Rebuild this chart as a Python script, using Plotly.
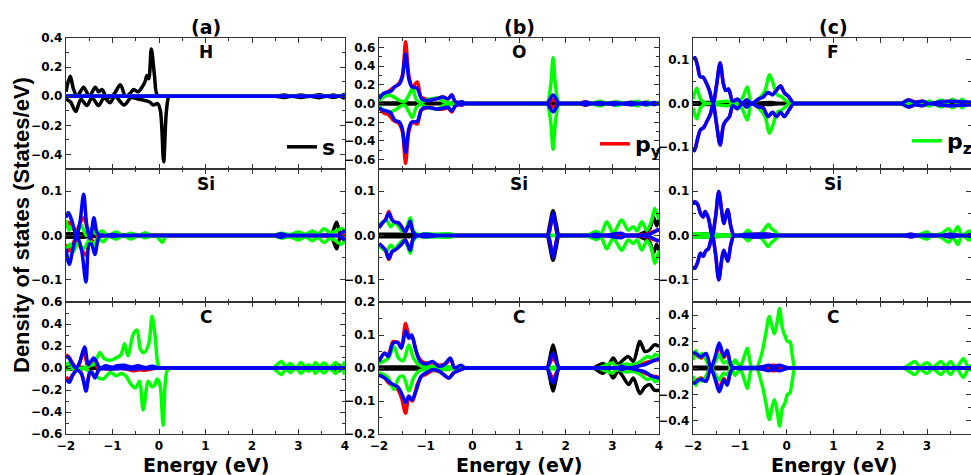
import plotly.graph_objects as go

# ---------------- data: (energy eV, DOS states/eV) ----------------
ZERO = [(-2.0, 0.0), (4.0, 0.0)]

# ---- (a) H ----
H_s_up = [(-2.0, 0.03), (-1.96, 0.09), (-1.907, 0.137), (-1.84, 0.05), (-1.76, 0.0), (-1.62, 0.062), (-1.5, 0.0),
          (-1.37, 0.062), (-1.3, 0.03), (-1.226, 0.046), (-1.12, -0.01), (-0.98, 0.01), (-0.83, 0.078), (-0.72, 0.0),
          (-0.62, 0.02), (-0.545, 0.046), (-0.45, 0.03), (-0.366, 0.062), (-0.3, 0.1), (-0.26, 0.142), (-0.22, 0.12),
          (-0.165, 0.325), (-0.1, 0.15), (-0.04, 0.01), (0.05, 0.0), (0.15, 0.0), (2.4, 0.0), (2.5, 0.0), (2.7, 0.008),
          (2.85, 0.0), (3.05, 0.008), (3.25, 0.0), (3.45, 0.01), (3.6, 0.0), (3.75, 0.008), (3.88, 0.0), (4.0, 0.015)]
H_s_dn = [(-2.0, -0.02), (-1.9, -0.04), (-1.79, -0.105), (-1.68, -0.02), (-1.55, -0.064), (-1.44, -0.01), (-1.3, -0.064),
          (-1.18, -0.01), (-1.05, -0.045), (-0.95, 0.0), (-0.75, -0.06), (-0.6, -0.01), (-0.45, -0.02), (-0.3, -0.03),
          (-0.2, -0.04), (-0.12, -0.06), (-0.03, -0.05), (0.03, -0.1), (0.1, -0.45), (0.16, -0.1), (0.22, 0.0),
          (0.32, 0.0), (2.4, 0.0), (2.5, 0.0), (2.7, -0.008), (2.85, 0.0), (3.05, -0.008), (3.25, 0.0), (3.45, -0.01),
          (3.6, 0.0), (3.75, -0.008), (3.88, 0.0), (4.0, -0.015)]

# ---- (a) Si ----
Sia_s_up = [(-2.0, 0.004), (-1.7, 0.004), (-1.4, 0.002), (-1.2, 0.0), (-1.1, 0.0), (3.5, 0.0), (3.6, 0.0), (3.72, 0.006),
            (3.82, 0.03), (3.9, 0.004), (4.0, 0.012)]
Sia_s_dn = [(-2.0, -0.004), (-1.7, -0.004), (-1.4, -0.002), (-1.2, 0.0), (-1.1, 0.0), (3.5, 0.0), (3.6, 0.0), (3.72, -0.006),
            (3.82, -0.03), (3.9, -0.004), (4.0, -0.014)]
Sia_py_up = [(-2.0, 0.02), (-1.93, 0.03), (-1.8, 0.01), (-1.62, 0.04), (-1.5, 0.005), (-1.4, 0.02), (-1.3, 0.0), (-1.2, 0.0),
             (4.0, 0.0)]
Sia_py_dn = [(-2.0, -0.02), (-1.93, -0.035), (-1.8, -0.01), (-1.57, -0.045), (-1.48, -0.005), (-1.38, -0.02), (-1.3, 0.0),
             (-1.2, 0.0), (4.0, 0.0)]
Sia_pz_up = [(-2.0, 0.035), (-1.93, 0.012), (-1.85, 0.022), (-1.78, 0.002), (-1.68, 0.025), (-1.56, 0.0), (-1.46, 0.016),
             (-1.36, 0.004), (-1.22, 0.01), (-1.1, 0.0), (-0.92, 0.008), (-0.78, 0.0), (-0.6, 0.005), (-0.45, 0.0),
             (-0.3, 0.006), (-0.15, 0.0), (-0.05, 0.0), (2.35, 0.0), (2.45, 0.0), (2.65, 0.005), (2.8, 0.002), (3.0, 0.008),
             (3.15, 0.003), (3.3, 0.01), (3.42, 0.004), (3.55, 0.015), (3.68, 0.006), (3.8, 0.01), (3.92, 0.016), (4.0, 0.01)]
Sia_pz_dn = [(-2.0, -0.03), (-1.9, -0.02), (-1.84, -0.036), (-1.75, -0.018), (-1.62, -0.03), (-1.5, -0.01), (-1.42, -0.022),
             (-1.32, -0.006), (-1.2, -0.014), (-1.08, -0.002), (-0.92, -0.008), (-0.78, 0.0), (-0.6, -0.008), (-0.45, 0.0),
             (-0.3, -0.005), (-0.12, 0.0), (-0.03, -0.004), (0.07, -0.015), (0.16, 0.0), (0.26, 0.0), (2.35, 0.0),
             (2.45, 0.0), (2.65, -0.006), (2.8, -0.002), (3.0, -0.01), (3.15, -0.003), (3.3, -0.012), (3.42, -0.004),
             (3.55, -0.016), (3.68, -0.006), (3.8, -0.012), (3.92, -0.02), (4.0, -0.01)]
Sia_px_up = [(-2.0, 0.04), (-1.95, 0.052), (-1.88, 0.035), (-1.77, 0.0), (-1.7, 0.03), (-1.62, 0.093), (-1.55, 0.02),
             (-1.48, -0.008), (-1.4, 0.04), (-1.33, 0.006), (-1.25, 0.0), (-1.0, 0.002), (-0.8, 0.0), (-0.7, 0.0),
             (2.4, 0.0), (2.5, 0.0), (2.62, 0.004), (2.75, 0.0), (2.85, 0.0), (3.75, 0.0), (3.85, 0.0), (4.0, 0.012)]
Sia_px_dn = [(-2.0, -0.03), (-1.93, -0.065), (-1.85, -0.03), (-1.77, 0.0), (-1.67, -0.03), (-1.57, -0.105), (-1.5, -0.02),
             (-1.45, -0.02), (-1.38, -0.043), (-1.3, -0.005), (-1.25, 0.0), (-1.0, -0.002), (-0.8, 0.0), (-0.7, 0.0),
             (2.4, 0.0), (2.5, 0.0), (2.62, -0.004), (2.75, 0.0), (2.85, 0.0), (3.75, 0.0), (3.85, 0.0), (4.0, -0.01)]

# ---- (a) C ----
Ca_s_up = [(-2.0, 0.01), (-1.8, 0.006), (-1.5, 0.004), (-1.2, 0.0), (-1.1, 0.0), (3.6, 0.0), (3.7, 0.0), (3.8, 0.02),
           (3.85, 0.03), (3.92, 0.005), (4.0, 0.0)]
Ca_s_dn = [(-2.0, -0.01), (-1.8, -0.006), (-1.5, -0.004), (-1.2, 0.0), (-1.1, 0.0), (3.6, 0.0), (3.7, 0.0), (3.8, -0.02),
           (3.85, -0.03), (3.92, -0.005), (4.0, 0.0)]
Ca_py_up = [(-2.0, 0.12), (-1.94, 0.1), (-1.82, 0.02), (-1.75, 0.0), (-1.62, 0.15), (-1.52, 0.0), (-1.42, 0.07), (-1.3, 0.0),
            (-1.1, 0.01), (-0.9, 0.0), (-0.8, 0.0), (4.0, 0.0)]
Ca_py_dn = [(-2.0, -0.08), (-1.94, -0.1), (-1.8, -0.03), (-1.72, 0.0), (-1.57, -0.17), (-1.47, -0.03), (-1.38, -0.08),
            (-1.27, -0.005), (-1.1, -0.01), (-0.9, 0.0), (-0.7, -0.01), (-0.55, -0.025), (-0.42, -0.015), (-0.3, -0.02),
            (-0.18, -0.01), (-0.05, 0.0), (0.05, 0.0), (4.0, 0.0)]
Ca_pz_up = [(-2.0, 0.02), (-1.92, 0.05), (-1.82, 0.0), (-1.72, -0.015), (-1.6, 0.0), (-1.5, 0.02), (-1.4, 0.035), (-1.27, 0.14),
            (-1.19, 0.09), (-1.05, 0.07), (-0.93, 0.09), (-0.82, 0.12), (-0.74, 0.22), (-0.67, 0.11), (-0.55, 0.31),
            (-0.47, 0.345), (-0.4, 0.17), (-0.32, 0.14), (-0.22, 0.22), (-0.15, 0.47), (-0.08, 0.28), (-0.01, 0.02),
            (0.06, 0.0), (0.16, 0.0), (2.35, 0.0), (2.45, 0.0), (2.55, 0.035), (2.64, 0.06), (2.72, 0.01), (2.82, 0.04),
            (2.95, 0.0), (3.05, 0.05), (3.15, 0.01), (3.22, 0.03), (3.3, 0.0), (3.36, 0.05), (3.45, 0.015), (3.55, 0.045),
            (3.65, 0.005), (3.72, 0.02), (3.8, 0.05), (3.9, 0.0), (4.0, 0.06)]
Ca_pz_dn = [(-2.0, -0.02), (-1.9, 0.0), (-1.8, -0.01), (-1.62, 0.0), (-1.45, -0.05), (-1.3, -0.09), (-1.2, -0.1), (-1.05, -0.04),
            (-0.92, -0.07), (-0.8, -0.05), (-0.7, -0.08), (-0.6, -0.15), (-0.5, -0.18), (-0.42, -0.12), (-0.34, -0.38),
            (-0.23, -0.12), (-0.15, -0.17), (-0.1, -0.16), (-0.04, -0.1), (0.02, -0.15), (0.09, -0.52), (0.17, -0.03),
            (0.25, 0.0), (0.35, 0.0), (2.35, 0.0), (2.45, 0.0), (2.55, -0.035), (2.64, -0.06), (2.72, -0.01),
            (2.82, -0.04), (2.95, 0.0), (3.05, -0.05), (3.15, -0.01), (3.22, -0.03), (3.3, 0.0), (3.36, -0.05),
            (3.45, -0.015), (3.55, -0.045), (3.65, -0.005), (3.72, -0.02), (3.8, -0.05), (3.9, 0.0), (4.0, -0.06)]
Ca_px_up = [(-2.0, 0.09), (-1.95, 0.1), (-1.87, 0.04), (-1.78, 0.0), (-1.7, 0.06), (-1.6, 0.19), (-1.52, 0.03), (-1.45, 0.07),
            (-1.4, 0.09), (-1.34, 0.05), (-1.27, 0.0), (-1.15, 0.02), (-1.0, 0.005), (-0.9, 0.02), (-0.75, 0.025),
            (-0.6, 0.01), (-0.45, 0.02), (-0.3, 0.005), (-0.15, 0.015), (0.0, 0.0), (0.1, 0.0), (4.0, 0.0)]
Ca_px_dn = [(-2.0, -0.1), (-1.93, -0.13), (-1.85, -0.06), (-1.76, -0.02), (-1.66, -0.06), (-1.57, -0.21), (-1.49, -0.04),
            (-1.44, -0.04), (-1.38, -0.09), (-1.3, -0.02), (-1.2, -0.005), (-1.0, -0.01), (-0.8, -0.005), (-0.6, -0.01),
            (-0.4, -0.005), (-0.2, -0.005), (0.0, 0.0), (0.1, 0.0), (4.0, 0.0)]

# ---- (b) O ----
O_s_up = [(-2.0, 0.006), (-1.5, 0.006), (-1.0, 0.004), (-0.6, 0.002), (-0.4, 0.0), (-0.3, 0.0), (1.55, 0.0), (1.65, 0.0),
          (1.73, 0.01), (1.8, 0.0), (1.9, 0.0), (4.0, 0.0)]
O_s_dn = [(-2.0, -0.006), (-1.5, -0.006), (-1.0, -0.004), (-0.6, -0.002), (-0.4, 0.0), (-0.3, 0.0), (1.55, 0.0), (1.65, 0.0),
          (1.73, -0.01), (1.8, 0.0), (1.9, 0.0), (4.0, 0.0)]
O_py_up = [(-2.0, 0.04), (-1.9, 0.1), (-1.8, 0.13), (-1.69, 0.17), (-1.58, 0.21), (-1.5, 0.3), (-1.43, 0.66), (-1.36, 0.3),
           (-1.28, 0.18), (-1.18, 0.23), (-1.1, 0.07), (-1.0, 0.05), (-0.9, 0.04), (-0.77, 0.05), (-0.63, 0.07),
           (-0.52, 0.05), (-0.44, 0.09), (-0.37, 0.02), (-0.3, 0.01), (-0.23, 0.02), (-0.15, 0.0), (-0.05, 0.0),
           (1.5, 0.0), (1.6, 0.0), (1.73, 0.04), (1.86, 0.0), (1.96, 0.0), (2.2, 0.0), (2.3, 0.0), (2.42, 0.018),
           (2.55, 0.0), (2.75, 0.012), (2.86, 0.0), (3.05, 0.012), (3.18, 0.0), (3.4, 0.014), (3.57, 0.0), (3.7, 0.012),
           (3.82, 0.0), (3.9, 0.01), (4.0, 0.005)]
O_py_dn = [(-2.0, -0.04), (-1.9, -0.1), (-1.8, -0.12), (-1.69, -0.18), (-1.58, -0.21), (-1.5, -0.3), (-1.43, -0.64),
           (-1.36, -0.3), (-1.28, -0.2), (-1.18, -0.22), (-1.1, -0.07), (-1.0, -0.05), (-0.9, -0.04), (-0.77, -0.06),
           (-0.63, -0.06), (-0.52, -0.05), (-0.44, -0.09), (-0.37, -0.03), (-0.3, -0.01), (-0.23, -0.02), (-0.15, 0.0),
           (-0.05, 0.0), (1.5, 0.0), (1.6, 0.0), (1.73, -0.04), (1.86, 0.0), (1.96, 0.0), (2.2, 0.0), (2.3, 0.0),
           (2.42, -0.018), (2.55, 0.0), (2.75, -0.012), (2.86, 0.0), (3.05, -0.012), (3.18, 0.0), (3.4, -0.014),
           (3.57, 0.0), (3.7, -0.012), (3.82, 0.0), (3.9, -0.01), (4.0, -0.005)]
O_pz_up = [(-2.0, 0.03), (-1.9, 0.07), (-1.78, 0.09), (-1.65, 0.06), (-1.55, 0.03), (-1.45, 0.02), (-1.36, 0.09), (-1.28, 0.16),
           (-1.2, 0.04), (-1.1, 0.01), (-0.98, 0.04), (-0.86, 0.05), (-0.74, 0.06), (-0.62, 0.02), (-0.5, 0.01),
           (-0.35, 0.0), (-0.25, 0.0), (1.5, 0.0), (1.6, 0.0), (1.68, 0.2), (1.73, 0.49), (1.78, 0.2), (1.86, 0.0),
           (1.96, 0.0), (2.4, 0.0), (2.5, 0.0), (2.62, 0.01), (2.75, 0.025), (2.88, 0.0), (3.0, 0.01), (3.1, 0.02),
           (3.25, 0.0), (3.45, 0.015), (3.55, 0.025), (3.65, 0.0), (3.75, 0.02), (3.85, 0.0), (4.0, 0.01)]
O_pz_dn = [(-2.0, -0.03), (-1.9, -0.07), (-1.78, -0.09), (-1.65, -0.07), (-1.55, -0.03), (-1.45, -0.02), (-1.36, -0.09),
           (-1.28, -0.15), (-1.2, -0.04), (-1.1, -0.01), (-0.98, -0.04), (-0.86, -0.05), (-0.74, -0.06), (-0.62, -0.02),
           (-0.5, -0.01), (-0.35, 0.0), (-0.25, 0.0), (1.5, 0.0), (1.6, 0.0), (1.68, -0.2), (1.73, -0.49), (1.78, -0.2),
           (1.86, 0.0), (1.96, 0.0), (2.4, 0.0), (2.5, 0.0), (2.62, -0.01), (2.75, -0.025), (2.88, 0.0), (3.0, -0.01),
           (3.1, -0.02), (3.25, 0.0), (3.45, -0.015), (3.55, -0.025), (3.65, 0.0), (3.75, -0.02), (3.85, 0.0), (4.0, -0.01)]
O_px_up = [(-2.0, 0.05), (-1.92, 0.1), (-1.84, 0.12), (-1.75, 0.13), (-1.66, 0.18), (-1.56, 0.21), (-1.5, 0.28), (-1.43, 0.53),
           (-1.36, 0.26), (-1.3, 0.18), (-1.18, 0.16), (-1.1, 0.06), (-1.04, 0.035), (-0.91, 0.035), (-0.77, 0.05),
           (-0.63, 0.07), (-0.52, 0.05), (-0.44, 0.09), (-0.37, 0.02), (-0.3, 0.01), (-0.23, 0.02), (-0.15, 0.0),
           (-0.05, 0.0), (1.5, 0.0), (1.6, 0.0), (1.73, 0.09), (1.86, 0.0), (1.96, 0.0), (2.2, 0.0), (2.3, 0.0),
           (2.42, 0.015), (2.55, 0.0), (2.75, 0.01), (2.86, 0.0), (3.05, 0.01), (3.18, 0.0), (3.4, 0.012), (3.57, 0.0),
           (3.7, 0.01), (3.82, 0.0), (3.9, 0.01), (3.96, 0.0), (4.0, 0.005)]
O_px_dn = [(-2.0, -0.045), (-1.92, -0.07), (-1.84, -0.08), (-1.75, -0.1), (-1.66, -0.18), (-1.56, -0.2), (-1.5, -0.27),
           (-1.43, -0.52), (-1.36, -0.27), (-1.3, -0.2), (-1.18, -0.19), (-1.1, -0.08), (-1.04, -0.045), (-0.91, -0.045),
           (-0.77, -0.06), (-0.63, -0.05), (-0.52, -0.04), (-0.44, -0.08), (-0.37, -0.03), (-0.3, -0.01), (-0.23, -0.015),
           (-0.15, 0.0), (-0.05, 0.0), (1.5, 0.0), (1.6, 0.0), (1.73, -0.09), (1.86, 0.0), (1.96, 0.0), (2.2, 0.0),
           (2.3, 0.0), (2.42, -0.015), (2.55, 0.0), (2.75, -0.01), (2.86, 0.0), (3.05, -0.01), (3.18, 0.0), (3.4, -0.012),
           (3.57, 0.0), (3.7, -0.01), (3.82, 0.0), (3.9, -0.01), (3.96, 0.0), (4.0, -0.005)]

# ---- (b) Si ----
Sib_s_up = [(-2.0, 0.003), (-1.6, 0.003), (-1.3, 0.002), (-1.1, 0.0), (-1.0, 0.0), (1.5, 0.0), (1.6, 0.0), (1.66, 0.025),
            (1.73, 0.056), (1.8, 0.025), (1.86, 0.0), (1.96, 0.0), (3.4, 0.0), (3.5, 0.0), (3.7, 0.008), (3.8, 0.015),
            (3.88, 0.042), (3.95, 0.022), (4.0, 0.04)]
Sib_s_dn = [(-2.0, -0.003), (-1.6, -0.003), (-1.3, -0.002), (-1.1, 0.0), (-1.0, 0.0), (1.5, 0.0), (1.6, 0.0), (1.66, -0.025),
            (1.73, -0.056), (1.8, -0.025), (1.86, 0.0), (1.96, 0.0), (3.4, 0.0), (3.5, 0.0), (3.7, -0.008), (3.8, -0.015),
            (3.88, -0.04), (3.95, -0.02), (4.0, -0.035)]
Sib_py_up = [(-2.0, 0.018), (-1.93, 0.028), (-1.86, 0.036), (-1.79, 0.054), (-1.72, 0.036), (-1.66, 0.03), (-1.58, 0.028),
             (-1.52, 0.02), (-1.44, 0.008), (-1.38, 0.02), (-1.33, 0.03), (-1.27, 0.008), (-1.18, 0.0), (-1.08, 0.0),
             (1.52, 0.0), (1.62, 0.0), (1.73, 0.045), (1.84, 0.0), (1.94, 0.0), (3.5, 0.0), (3.6, 0.0), (3.8, 0.005),
             (3.9, 0.01), (4.0, 0.012)]
Sib_py_dn = [(-2.0, -0.019), (-1.93, -0.026), (-1.86, -0.034), (-1.79, -0.054), (-1.72, -0.037), (-1.66, -0.033),
             (-1.58, -0.026), (-1.52, -0.02), (-1.44, -0.01), (-1.38, -0.022), (-1.33, -0.032), (-1.27, -0.008),
             (-1.18, 0.0), (-1.08, 0.0), (1.52, 0.0), (1.62, 0.0), (1.73, -0.045), (1.84, 0.0), (1.94, 0.0), (3.5, 0.0),
             (3.6, 0.0), (3.8, -0.005), (3.9, -0.01), (4.0, -0.012)]
Sib_pz_up = [(-2.0, 0.024), (-1.92, 0.03), (-1.84, 0.035), (-1.75, 0.02), (-1.66, 0.03), (-1.58, 0.02), (-1.5, 0.01),
             (-1.42, 0.015), (-1.33, 0.04), (-1.26, 0.01), (-1.15, 0.002), (-1.0, 0.004), (-0.8, 0.003), (-0.5, 0.004),
             (-0.35, 0.0), (-0.25, 0.0), (2.35, 0.0), (2.45, 0.0), (2.55, 0.005), (2.66, 0.009), (2.76, 0.004),
             (2.88, 0.031), (3.02, 0.006), (3.2, 0.035), (3.34, 0.012), (3.45, 0.02), (3.53, 0.01), (3.63, 0.031),
             (3.74, 0.012), (3.84, 0.033), (3.91, 0.061), (4.0, 0.035)]
Sib_pz_dn = [(-2.0, -0.024), (-1.92, -0.03), (-1.84, -0.036), (-1.75, -0.022), (-1.66, -0.03), (-1.58, -0.02), (-1.5, -0.012),
             (-1.42, -0.016), (-1.33, -0.04), (-1.26, -0.01), (-1.15, -0.002), (-1.0, -0.004), (-0.8, -0.003),
             (-0.5, -0.004), (-0.35, 0.0), (-0.25, 0.0), (2.35, 0.0), (2.45, 0.0), (2.55, -0.005), (2.66, -0.009),
             (2.76, -0.004), (2.88, -0.03), (3.02, -0.006), (3.2, -0.033), (3.34, -0.01), (3.45, -0.018), (3.53, -0.01),
             (3.63, -0.033), (3.74, -0.012), (3.84, -0.03), (3.91, -0.063), (4.0, -0.033)]
Sib_px_up = [(-2.0, 0.017), (-1.93, 0.028), (-1.86, 0.035), (-1.79, 0.05), (-1.72, 0.035), (-1.66, 0.03), (-1.58, 0.028),
             (-1.52, 0.02), (-1.44, 0.008), (-1.38, 0.02), (-1.33, 0.032), (-1.27, 0.008), (-1.18, 0.0), (-1.05, 0.003),
             (-0.9, 0.002), (-0.75, 0.0), (-0.65, 0.0), (1.52, 0.0), (1.62, 0.0), (1.68, 0.025), (1.73, 0.05),
             (1.78, 0.025), (1.84, 0.0), (1.94, 0.0), (2.4, 0.0), (2.5, 0.0), (2.65, 0.003), (2.8, 0.0), (3.19, 0.005),
             (3.3, 0.0), (3.6, 0.0), (3.8, 0.003), (3.9, 0.008), (4.0, 0.015)]
Sib_px_dn = [(-2.0, -0.018), (-1.93, -0.025), (-1.86, -0.033), (-1.79, -0.052), (-1.72, -0.036), (-1.66, -0.033),
             (-1.58, -0.026), (-1.52, -0.02), (-1.44, -0.01), (-1.38, -0.022), (-1.33, -0.033), (-1.27, -0.008),
             (-1.18, 0.0), (-1.05, -0.003), (-0.9, -0.002), (-0.75, 0.0), (-0.65, 0.0), (1.52, 0.0), (1.62, 0.0),
             (1.68, -0.025), (1.73, -0.05), (1.78, -0.025), (1.84, 0.0), (1.94, 0.0), (2.4, 0.0), (2.5, 0.0),
             (2.65, -0.003), (2.8, 0.0), (3.19, -0.005), (3.3, 0.0), (3.6, 0.0), (3.8, -0.003), (3.9, -0.008), (4.0, -0.013)]

# ---- (b) C ----
Cb_s_up = [(-2.0, 0.003), (-1.5, 0.003), (-1.0, 0.002), (-0.6, 0.0), (-0.5, 0.0), (1.5, 0.0), (1.6, 0.0), (1.66, 0.03),
           (1.73, 0.07), (1.8, 0.03), (1.86, 0.0), (1.96, 0.0), (2.5, 0.0), (2.6, 0.0), (2.8, 0.014), (2.9, 0.005),
           (3.02, 0.03), (3.12, 0.01), (3.2, 0.02), (3.34, 0.035), (3.45, 0.02), (3.59, 0.08), (3.7, 0.05), (3.8, 0.055),
           (3.9, 0.07), (4.0, 0.065)]
Cb_s_dn = [(-2.0, -0.003), (-1.5, -0.003), (-1.0, -0.002), (-0.6, 0.0), (-0.5, 0.0), (1.5, 0.0), (1.6, 0.0), (1.66, -0.03),
           (1.73, -0.07), (1.8, -0.03), (1.86, 0.0), (1.96, 0.0), (2.5, 0.0), (2.6, 0.0), (2.8, -0.016), (2.9, -0.005),
           (3.02, -0.03), (3.12, -0.01), (3.2, -0.02), (3.35, -0.05), (3.45, -0.03), (3.59, -0.077), (3.7, -0.057),
           (3.8, -0.05), (3.9, -0.067), (4.0, -0.067)]
Cb_py_up = [(-2.0, 0.02), (-1.88, 0.045), (-1.8, 0.04), (-1.7, 0.08), (-1.6, 0.078), (-1.52, 0.07), (-1.43, 0.135), (-1.36, 0.1),
            (-1.28, 0.09), (-1.18, 0.04), (-1.08, 0.02), (-1.0, 0.015), (-0.85, 0.015), (-0.7, 0.008), (-0.55, 0.015),
            (-0.47, 0.028), (-0.38, 0.0), (-0.25, 0.006), (-0.15, 0.0), (-0.05, 0.0), (1.5, 0.0), (1.6, 0.0),
            (1.73, 0.03), (1.86, 0.0), (1.96, 0.0), (2.9, 0.0), (3.0, 0.0), (3.2, 0.006), (3.4, 0.0), (3.6, 0.01),
            (3.8, 0.02), (4.0, 0.025)]
Cb_py_dn = [(-2.0, -0.022), (-1.88, -0.03), (-1.8, -0.045), (-1.7, -0.055), (-1.6, -0.065), (-1.52, -0.09), (-1.43, -0.137),
            (-1.36, -0.09), (-1.28, -0.1), (-1.18, -0.05), (-1.08, -0.025), (-1.0, -0.02), (-0.85, -0.008), (-0.7, -0.012),
            (-0.5, -0.03), (-0.4, -0.015), (-0.25, -0.005), (-0.15, 0.0), (-0.05, 0.0), (1.5, 0.0), (1.6, 0.0),
            (1.73, -0.03), (1.86, 0.0), (1.96, 0.0), (2.9, 0.0), (3.0, 0.0), (3.2, -0.006), (3.4, 0.0), (3.6, -0.01),
            (3.8, -0.022), (4.0, -0.028)]
Cb_pz_up = [(-2.0, 0.015), (-1.9, 0.02), (-1.8, 0.03), (-1.68, 0.065), (-1.58, 0.03), (-1.48, 0.022), (-1.36, 0.07), (-1.26, 0.03),
            (-1.15, 0.01), (-1.0, 0.004), (-0.8, 0.005), (-0.5, 0.004), (-0.3, 0.0), (-0.2, 0.0), (1.5, 0.0), (1.6, 0.0),
            (1.73, 0.003), (1.86, 0.0), (1.96, 0.0), (2.6, 0.0), (2.7, 0.0), (2.85, 0.008), (3.0, 0.015), (3.1, 0.005),
            (3.3, 0.012), (3.45, 0.01), (3.6, 0.02), (3.75, 0.035), (3.85, 0.03), (3.92, 0.042), (4.0, 0.035)]
Cb_pz_dn = [(-2.0, -0.015), (-1.9, -0.02), (-1.8, -0.03), (-1.68, -0.065), (-1.58, -0.03), (-1.48, -0.025), (-1.36, -0.07),
            (-1.26, -0.03), (-1.15, -0.01), (-1.0, -0.004), (-0.8, -0.005), (-0.5, -0.004), (-0.3, 0.0), (-0.2, 0.0),
            (1.5, 0.0), (1.6, 0.0), (1.73, -0.003), (1.86, 0.0), (1.96, 0.0), (2.6, 0.0), (2.7, 0.0), (2.85, -0.008),
            (3.0, -0.015), (3.1, -0.005), (3.3, -0.012), (3.45, -0.01), (3.6, -0.02), (3.75, -0.035), (3.85, -0.03),
            (3.92, -0.042), (4.0, -0.035)]
Cb_px_up = [(-2.0, 0.02), (-1.88, 0.045), (-1.8, 0.035), (-1.7, 0.075), (-1.6, 0.077), (-1.52, 0.06), (-1.43, 0.112),
            (-1.36, 0.09), (-1.3, 0.1), (-1.22, 0.06), (-1.12, 0.02), (-1.0, 0.012), (-0.85, 0.02), (-0.72, 0.005),
            (-0.6, 0.01), (-0.47, 0.03), (-0.38, 0.0), (-0.25, 0.008), (-0.15, 0.0), (-0.05, 0.0), (1.5, 0.0), (1.6, 0.0),
            (1.73, 0.045), (1.86, 0.0), (1.96, 0.0), (3.0, 0.0), (3.1, 0.0), (3.2, 0.005), (3.3, 0.0), (3.5, 0.004),
            (3.7, 0.01), (3.85, 0.02), (4.0, 0.028)]
Cb_px_dn = [(-2.0, -0.022), (-1.9, -0.028), (-1.79, -0.041), (-1.7, -0.05), (-1.6, -0.057), (-1.5, -0.082), (-1.43, -0.105),
            (-1.36, -0.085), (-1.3, -0.097), (-1.2, -0.067), (-1.1, -0.026), (-1.0, -0.015), (-0.85, -0.005), (-0.7, -0.01),
            (-0.5, -0.03), (-0.4, -0.015), (-0.25, -0.005), (-0.15, 0.0), (-0.05, 0.0), (1.5, 0.0), (1.6, 0.0),
            (1.73, -0.045), (1.86, 0.0), (1.96, 0.0), (3.0, 0.0), (3.1, 0.0), (3.2, -0.005), (3.3, 0.0), (3.5, -0.005),
            (3.7, -0.012), (3.85, -0.025), (4.0, -0.03)]

# ---- (c) F ----
F_s_up = [(-2.0, 0.002), (-1.5, 0.002), (-1.2, 0.001), (-0.9, 0.0), (-0.3, 0.002), (-0.1, 0.0), (0.0, 0.0), (4.0, 0.0)]
F_s_dn = [(-2.0, -0.002), (-1.5, -0.002), (-1.2, -0.001), (-0.9, 0.0), (-0.3, -0.002), (-0.1, 0.0), (0.0, 0.0), (4.0, 0.0)]
F_pz_up = [(-2.0, 0.01), (-1.92, 0.035), (-1.84, 0.01), (-1.72, 0.0), (-1.5, 0.003), (-1.25, 0.005), (-1.1, 0.0), (-0.95, 0.012),
           (-0.84, 0.038), (-0.75, 0.0), (-0.6, 0.01), (-0.46, 0.03), (-0.37, 0.066), (-0.3, 0.05), (-0.2, 0.02),
           (-0.1, 0.015), (0.0, 0.005), (0.1, 0.0), (0.2, 0.0), (2.8, 0.0), (2.9, 0.0), (3.05, 0.006), (3.15, 0.0),
           (3.3, 0.008), (3.42, 0.0), (3.55, 0.01), (3.65, 0.0), (3.75, 0.01), (3.85, 0.0), (4.0, 0.008)]
F_pz_dn = [(-2.0, -0.01), (-1.92, -0.035), (-1.84, -0.01), (-1.72, 0.0), (-1.5, -0.003), (-1.25, -0.005), (-1.1, 0.0),
           (-0.95, -0.012), (-0.84, -0.038), (-0.75, 0.0), (-0.6, -0.01), (-0.46, -0.03), (-0.37, -0.068), (-0.3, -0.052),
           (-0.2, -0.02), (-0.1, -0.015), (0.0, -0.005), (0.1, 0.0), (0.2, 0.0), (2.8, 0.0), (2.9, 0.0), (3.05, -0.006),
           (3.15, 0.0), (3.3, -0.008), (3.42, 0.0), (3.55, -0.01), (3.65, 0.0), (3.75, -0.01), (3.85, 0.0), (4.0, -0.008)]
F_px_up = [(-2.0, 0.1), (-1.96, 0.105), (-1.9, 0.085), (-1.85, 0.062), (-1.78, 0.06), (-1.72, 0.048), (-1.65, 0.03), (-1.57, 0.0),
           (-1.5, 0.04), (-1.42, 0.093), (-1.35, 0.045), (-1.3, 0.03), (-1.24, 0.033), (-1.15, 0.005), (-1.05, 0.01),
           (-0.95, 0.0), (-0.85, 0.008), (-0.75, 0.0), (-0.6, 0.01), (-0.5, 0.015), (-0.4, 0.025), (-0.3, 0.02),
           (-0.22, 0.03), (-0.13, 0.04), (-0.05, 0.025), (0.05, 0.015), (0.15, 0.0), (0.25, 0.0), (2.35, 0.0),
           (2.45, 0.0), (2.6, 0.008), (2.75, 0.003), (2.9, 0.005), (3.05, 0.0), (3.3, 0.004), (3.5, 0.005), (3.7, 0.004),
           (3.9, 0.003), (4.0, 0.0)]
F_px_dn = [(-2.0, -0.1), (-1.97, -0.108), (-1.9, -0.08), (-1.84, -0.06), (-1.77, -0.055), (-1.7, -0.04), (-1.63, -0.025),
           (-1.57, 0.0), (-1.5, -0.045), (-1.42, -0.095), (-1.35, -0.05), (-1.3, -0.04), (-1.22, -0.03), (-1.15, -0.005),
           (-1.05, -0.012), (-0.95, 0.0), (-0.85, -0.008), (-0.75, 0.0), (-0.6, -0.008), (-0.5, -0.01), (-0.4, -0.03),
           (-0.3, -0.02), (-0.22, -0.03), (-0.13, -0.02), (-0.05, -0.03), (0.05, -0.015), (0.15, 0.0), (0.25, 0.0),
           (2.35, 0.0), (2.45, 0.0), (2.6, -0.008), (2.75, -0.003), (2.9, -0.005), (3.05, 0.0), (3.3, -0.004),
           (3.5, -0.005), (3.7, -0.004), (3.9, -0.003), (4.0, 0.0)]
F_py_up = F_px_up      # p_y lies under p_x (hidden in the picture)
F_py_dn = F_px_dn

# ---- (c) Si ----
Sic_s_up = [(-2.0, 0.003), (-1.6, 0.003), (-1.2, 0.0), (-0.5, 0.002), (-0.3, 0.0), (-0.2, 0.0), (3.7, 0.0), (3.8, 0.0),
            (3.92, 0.008), (4.0, 0.004)]
Sic_s_dn = [(-2.0, -0.003), (-1.6, -0.003), (-1.2, 0.0), (-0.5, -0.002), (-0.3, 0.0), (-0.2, 0.0), (3.7, 0.0), (3.8, 0.0),
            (3.92, -0.008), (4.0, -0.004)]
Sic_pz_up = [(-2.0, 0.004), (-1.6, 0.003), (-1.2, 0.0), (-0.95, 0.0), (-0.82, 0.012), (-0.72, 0.0), (-0.55, 0.005), (-0.45, 0.018),
             (-0.39, 0.025), (-0.32, 0.015), (-0.25, 0.01), (-0.15, 0.0), (-0.05, 0.0), (2.7, 0.0), (2.8, 0.0), (3.0, 0.008),
             (3.1, 0.0), (3.3, 0.004), (3.46, 0.015), (3.55, 0.004), (3.66, 0.02), (3.75, 0.0), (3.9, 0.01), (4.0, 0.005)]
Sic_pz_dn = [(-2.0, -0.004), (-1.6, -0.003), (-1.2, 0.0), (-0.95, 0.0), (-0.82, -0.012), (-0.72, 0.0), (-0.55, -0.005),
             (-0.45, -0.018), (-0.39, -0.025), (-0.32, -0.015), (-0.25, -0.01), (-0.15, 0.0), (-0.05, 0.0), (2.7, 0.0),
             (2.8, 0.0), (3.0, -0.008), (3.1, 0.0), (3.3, -0.004), (3.46, -0.015), (3.55, -0.004), (3.66, -0.02),
             (3.75, 0.0), (3.9, -0.01), (4.0, -0.005)]
Sic_px_up = [(-2.0, 0.07), (-1.96, 0.076), (-1.9, 0.07), (-1.84, 0.05), (-1.78, 0.042), (-1.74, 0.054), (-1.67, 0.039),
             (-1.59, 0.0), (-1.52, 0.04), (-1.45, 0.099), (-1.38, 0.05), (-1.34, 0.027), (-1.26, 0.058), (-1.19, 0.02),
             (-1.12, 0.0), (-0.9, 0.002), (-0.4, 0.003), (-0.2, 0.0), (-0.1, 0.0), (2.4, 0.0), (2.5, 0.0), (2.65, 0.003),
             (2.8, 0.0), (3.3, 0.0), (3.5, 0.003), (3.7, 0.0), (4.0, 0.002)]
Sic_px_dn = [(-2.0, -0.07), (-1.96, -0.074), (-1.9, -0.06), (-1.84, -0.04), (-1.78, -0.047), (-1.73, -0.035), (-1.67, -0.03),
             (-1.59, 0.0), (-1.52, -0.04), (-1.45, -0.1), (-1.38, -0.05), (-1.34, -0.033), (-1.26, -0.058), (-1.19, -0.02),
             (-1.12, 0.0), (-0.9, -0.002), (-0.4, -0.003), (-0.2, 0.0), (-0.1, 0.0), (2.4, 0.0), (2.5, 0.0),
             (2.65, -0.003), (2.8, 0.0), (3.3, 0.0), (3.5, -0.003), (3.7, 0.0), (4.0, -0.002)]
Sic_py_up = Sic_px_up  # p_y lies under p_x (hidden in the picture)
Sic_py_dn = Sic_px_dn

# ---- (c) C ----
Cc_s_up = [(-2.0, 0.006), (-1.6, 0.005), (-1.2, 0.003), (-1.0, 0.0), (-0.9, 0.0), (3.75, 0.0), (3.85, 0.0), (3.93, 0.01), (4.0, 0.0)]
Cc_s_dn = [(-2.0, -0.006), (-1.6, -0.005), (-1.2, -0.003), (-1.0, 0.0), (-0.9, 0.0), (3.75, 0.0), (3.85, 0.0), (3.93, -0.01), (4.0, 0.0)]
Cc_py_up = [(-2.0, 0.09), (-1.97, 0.1), (-1.9, 0.09), (-1.83, 0.075), (-1.72, 0.09), (-1.62, 0.0), (-1.53, 0.07), (-1.44, 0.16),
            (-1.34, 0.08), (-1.27, 0.12), (-1.19, 0.02), (-1.12, 0.0), (-1.02, 0.0), (-0.62, 0.0), (-0.5, 0.01),
            (-0.38, 0.015), (-0.3, 0.02), (-0.15, 0.015), (0.05, 0.0), (0.15, 0.0), (4.0, 0.0)]
Cc_py_dn = [(-2.0, -0.09), (-1.97, -0.1), (-1.9, -0.085), (-1.83, -0.075), (-1.72, -0.085), (-1.62, 0.0), (-1.53, -0.07),
            (-1.44, -0.15), (-1.34, -0.08), (-1.27, -0.115), (-1.19, -0.02), (-1.12, 0.0), (-1.02, 0.0), (-0.62, 0.0),
            (-0.5, -0.01), (-0.38, -0.015), (-0.3, -0.02), (-0.15, -0.015), (0.05, 0.0), (0.15, 0.0), (4.0, 0.0)]
Cc_pz_up = [(-2.0, 0.06), (-1.94, 0.13), (-1.87, 0.08), (-1.81, 0.11), (-1.72, 0.06), (-1.62, 0.0), (-1.52, 0.05), (-1.44, 0.1),
            (-1.35, 0.04), (-1.27, 0.05), (-1.19, 0.0), (-1.1, 0.06), (-1.0, 0.01), (-0.91, 0.08), (-0.84, 0.15),
            (-0.75, 0.01), (-0.65, 0.0), (-0.53, 0.11), (-0.45, 0.25), (-0.37, 0.39), (-0.3, 0.3), (-0.26, 0.26),
            (-0.2, 0.35), (-0.15, 0.45), (-0.09, 0.3), (-0.04, 0.25), (0.02, 0.2), (0.07, 0.2), (0.12, 0.1), (0.18, 0.0),
            (0.28, 0.0), (2.4, 0.0), (2.5, 0.0), (2.6, 0.02), (2.74, 0.05), (2.85, 0.01), (3.0, 0.04), (3.12, 0.005),
            (3.22, 0.03), (3.3, 0.05), (3.4, 0.01), (3.5, 0.05), (3.62, 0.0), (3.78, 0.07), (3.88, 0.01), (4.0, 0.03)]
Cc_pz_dn = [(-2.0, -0.06), (-1.94, -0.13), (-1.87, -0.08), (-1.81, -0.1), (-1.72, -0.06), (-1.62, 0.0), (-1.52, -0.05),
            (-1.44, -0.09), (-1.35, -0.04), (-1.27, -0.05), (-1.19, 0.0), (-1.1, -0.055), (-1.0, -0.01), (-0.91, -0.08),
            (-0.84, -0.155), (-0.75, -0.01), (-0.65, 0.0), (-0.53, -0.12), (-0.45, -0.25), (-0.37, -0.39), (-0.3, -0.28),
            (-0.26, -0.24), (-0.2, -0.33), (-0.15, -0.44), (-0.09, -0.3), (-0.04, -0.27), (0.02, -0.2), (0.07, -0.19),
            (0.12, -0.1), (0.18, 0.0), (0.28, 0.0), (2.4, 0.0), (2.5, 0.0), (2.6, -0.02), (2.74, -0.05), (2.85, -0.01),
            (3.0, -0.04), (3.12, -0.005), (3.22, -0.03), (3.3, -0.05), (3.4, -0.01), (3.5, -0.05), (3.62, 0.0),
            (3.78, -0.07), (3.88, -0.01), (4.0, -0.03)]
Cc_px_up = [(-2.0, 0.11), (-1.97, 0.115), (-1.9, 0.1), (-1.83, 0.085), (-1.72, 0.11), (-1.62, 0.0), (-1.53, 0.08), (-1.44, 0.19),
            (-1.34, 0.09), (-1.27, 0.135), (-1.19, 0.02), (-1.12, 0.0), (-1.0, 0.005), (-0.7, 0.003), (-0.5, 0.01),
            (-0.38, 0.02), (-0.3, 0.01), (-0.15, 0.02), (-0.05, 0.01), (0.05, 0.0), (0.15, 0.0), (4.0, 0.0)]
Cc_px_dn = [(-2.0, -0.11), (-1.97, -0.115), (-1.9, -0.095), (-1.83, -0.085), (-1.72, -0.1), (-1.62, 0.0), (-1.53, -0.08),
            (-1.44, -0.18), (-1.34, -0.09), (-1.27, -0.13), (-1.19, -0.02), (-1.12, 0.0), (-1.0, -0.005), (-0.7, -0.003),
            (-0.5, -0.01), (-0.38, -0.02), (-0.3, -0.01), (-0.15, -0.02), (-0.05, -0.01), (0.05, 0.0), (0.15, 0.0), (4.0, 0.0)]

# ---------------- labels ----------------
PANEL_LETTERS = ["(a)", "(b)", "(c)"]
ELEMENTS = ["H", "O", "F", "Si", "Si", "Si", "C", "C", "C"]
ORBITAL_NAMES = ["s", "p<sub>y</sub>", "p<sub>z</sub>", "p<sub>x</sub>"]
ORBITAL_COLORS = ["#000000", "#FF0000", "#00FF00", "#0000FF"]
X_TITLE = "Energy (eV)"
Y_TITLE = "Density of states (States/eV)"

# per panel: [s, p_y, p_z, p_x], each (spin up, spin down)
PANEL_SERIES = [
    [(H_s_up, H_s_dn), (ZERO, ZERO), (ZERO, ZERO), (ZERO, ZERO)],
    [(O_s_up, O_s_dn), (O_py_up, O_py_dn), (O_pz_up, O_pz_dn), (O_px_up, O_px_dn)],
    [(F_s_up, F_s_dn), (F_py_up, F_py_dn), (F_pz_up, F_pz_dn), (F_px_up, F_px_dn)],
    [(Sia_s_up, Sia_s_dn), (Sia_py_up, Sia_py_dn), (Sia_pz_up, Sia_pz_dn), (Sia_px_up, Sia_px_dn)],
    [(Sib_s_up, Sib_s_dn), (Sib_py_up, Sib_py_dn), (Sib_pz_up, Sib_pz_dn), (Sib_px_up, Sib_px_dn)],
    [(Sic_s_up, Sic_s_dn), (Sic_py_up, Sic_py_dn), (Sic_pz_up, Sic_pz_dn), (Sic_px_up, Sic_px_dn)],
    [(Ca_s_up, Ca_s_dn), (Ca_py_up, Ca_py_dn), (Ca_pz_up, Ca_pz_dn), (Ca_px_up, Ca_px_dn)],
    [(Cb_s_up, Cb_s_dn), (Cb_py_up, Cb_py_dn), (Cb_pz_up, Cb_pz_dn), (Cb_px_up, Cb_px_dn)],
    [(Cc_s_up, Cc_s_dn), (Cc_py_up, Cc_py_dn), (Cc_pz_up, Cc_pz_dn), (Cc_px_up, Cc_px_dn)],
]
# legend entry shown in a given panel: (panel index, orbital index, legend id)
LEGEND_ENTRIES = [(0, 0, "legend"), (1, 1, "legend2"), (2, 2, "legend3")]

# ---------------- layout geometry ----------------
W, H = 971, 475
COL_PX = [(66, 345), (379, 659), (693, 971)]
ROW_PX = [(38, 169), (169, 302), (302, 434)]
X_RANGES = [[-2, 4], [-2, 4], [-2, 3.94]]
Y_RANGES = [[-0.5, 0.4], [-0.7, 0.7], [-0.15, 0.15],
            [-0.15, 0.15], [-0.15, 0.15], [-0.15, 0.15],
            [-0.6, 0.6], [-0.2, 0.2], [-0.5, 0.5]]
Y_DTICK = [0.2, 0.2, 0.1, 0.1, 0.1, 0.1, 0.2, 0.1, 0.2]

FONT = "DejaVu Sans"
AXCOL = "#333333"

fig = go.Figure()
legend_lookup = {(p, o): lg for p, o, lg in LEGEND_ENTRIES}

for p, series in enumerate(PANEL_SERIES):
    n = p + 1
    xa = "x" if n == 1 else f"x{n}"
    ya = "y" if n == 1 else f"y{n}"
    for o, (up, dn) in enumerate(series):
        for k, pts in enumerate((up, dn)):
            xs = [e for e, _ in pts]
            ys = [v for _, v in pts]
            lg = legend_lookup.get((p, o)) if k == 0 else None
            fig.add_trace(go.Scatter(
                x=xs, y=ys, mode="lines", xaxis=xa, yaxis=ya,
                name=ORBITAL_NAMES[o],
                line=dict(color=ORBITAL_COLORS[o], width=3.5, shape="spline", smoothing=0.9),
                showlegend=lg is not None,
                legend=lg if lg is not None else "legend",
                hoverinfo="skip",
            ))

layout = dict(width=W, height=H, margin=dict(l=0, r=0, t=0, b=0, autoexpand=False),
              paper_bgcolor="white", plot_bgcolor="white", showlegend=True)

tickfont = dict(family=FONT, size=12, color="black", weight="bold")
for p in range(9):
    n = p + 1
    r, c = divmod(p, 3)
    x0, x1 = COL_PX[c]
    y0, y1 = ROW_PX[r]
    xkey = "xaxis" if n == 1 else f"xaxis{n}"
    ykey = "yaxis" if n == 1 else f"yaxis{n}"
    layout[xkey] = dict(
        domain=[x0 / W, x1 / W], range=X_RANGES[c], anchor="y" if n == 1 else f"y{n}",
        showline=True, linecolor=AXCOL, linewidth=1.4, mirror="ticks",
        ticks="inside", ticklen=5, tickwidth=1.3, tickcolor=AXCOL,
        tick0=0, dtick=1, showticklabels=(r == 2), tickfont=tickfont,
        minor=dict(ticks="inside", dtick=0.5, ticklen=3, tickwidth=1.1, tickcolor=AXCOL),
        showgrid=False, zeroline=False, fixedrange=True, automargin=False,
    )
    layout[ykey] = dict(
        domain=[1 - y1 / H, 1 - y0 / H], range=Y_RANGES[p], anchor="x" if n == 1 else f"x{n}",
        showline=True, linecolor=AXCOL, linewidth=1.4, mirror="ticks",
        ticks="inside", ticklen=5, tickwidth=1.3, tickcolor=AXCOL,
        tick0=0, dtick=Y_DTICK[p], tickformat=".1f", tickfont=tickfont,
        minor=dict(ticks="inside", dtick=Y_DTICK[p] / 2, ticklen=3, tickwidth=1.1, tickcolor=AXCOL),
        showgrid=False, zeroline=False, fixedrange=True, automargin=False,
    )

annotations = []
for c in range(3):
    x0, x1 = COL_PX[c]
    cx = (x0 + x1) / 2 if c < 2 else (x0 + 974) / 2
    annotations.append(dict(xref="paper", yref="paper", x=cx / W, y=1 - 27 / H, text=PANEL_LETTERS[c],
                            showarrow=False, xanchor="center", yanchor="middle",
                            font=dict(family=FONT, size=19, color="black", weight="bold")))
    annotations.append(dict(xref="paper", yref="paper", x=cx / W, y=1 - 465 / H, text=X_TITLE,
                            showarrow=False, xanchor="center", yanchor="middle",
                            font=dict(family=FONT, size=19, color="black", weight="bold")))
for p in range(9):
    n = p + 1
    annotations.append(dict(xref="x" if n == 1 else f"x{n}", yref=("y" if n == 1 else f"y{n}") + " domain",
                            x=1, y=0.89, text=ELEMENTS[p], showarrow=False, xanchor="center", yanchor="middle",
                            font=dict(family=FONT, size=17, color="black", weight="bold")))
annotations.append(dict(xref="paper", yref="paper", x=22 / W, y=1 - 225 / H, text=Y_TITLE, textangle=-90,
                        showarrow=False, xanchor="center", yanchor="middle",
                        font=dict(family="Liberation Sans", size=22, color="black", weight="bold")))
layout["annotations"] = annotations

legend_font = dict(family=FONT, size=22, color="black", weight="bold")
LEGEND_PX = {"legend": (282, 147), "legend2": (595, 144), "legend3": (907, 141)}
for key, (lx, ly) in LEGEND_PX.items():
    layout[key] = dict(x=lx / W, y=1 - ly / H, xanchor="left", yanchor="middle",
                       bgcolor="rgba(0,0,0,0)", borderwidth=0, font=legend_font, itemwidth=30)

fig.update_layout(**layout)
fig.write_html("out.html", config={"displayModeBar": False},
               post_script=["document.body.style.margin='0';document.body.style.overflow='hidden';"])
